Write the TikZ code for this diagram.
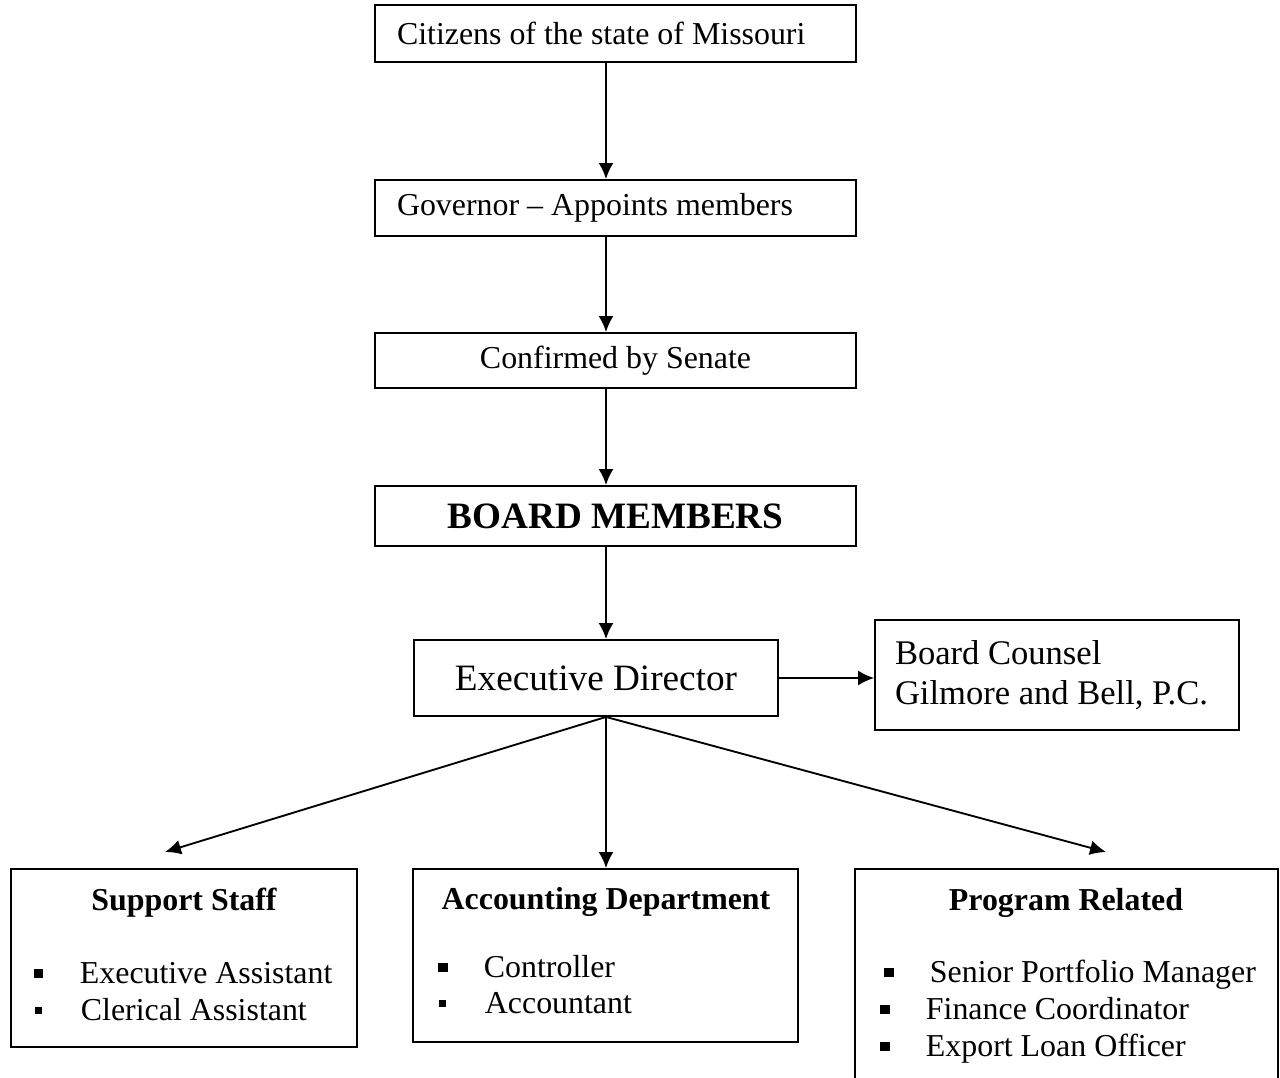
\documentclass[tikz,border=0pt]{standalone}
\usepackage{fontspec}
\setmainfont{Liberation Serif}
\usetikzlibrary{arrows.meta}
\newcommand{\blt}[2]{\makebox[17.3pt][l]{\raisebox{\dimexpr3.6pt-#1/2\relax}{\rule{#1}{#1}}}#2}
\begin{document}
\begin{tikzpicture}[>={Latex[length=6pt,width=5.6pt]}, x=0.3762pt, y=-0.3762pt, line width=0.7pt,
    box/.style={draw, inner sep=0pt, font=\fontsize{12}{14.4}\selectfont},
    head/.style={anchor=base, inner sep=0pt, font=\fontsize{12}{14.4}\selectfont\bfseries},
    item/.style={anchor=base west, inner sep=0pt, font=\fontsize{12}{14.4}\selectfont}]
    \useasboundingbox (0,0) rectangle (1280,1078);
    \coordinate (spine) at (606,0);

    \node[box, minimum width=181pt, minimum height=21.4pt, text width=164.4pt, align=flush left] (cit) at (615.5,33.5) {Citizens of the state of Missouri};
    \node[box, minimum width=181pt, minimum height=21.1pt, text width=164.4pt, align=flush left] (gov) at (615.5,208) {Governor -- Appoints members};
    \node[box, minimum width=181pt, minimum height=20.7pt] (sen) at (615.5,360.5) {Confirmed by Senate};
    \node[box, minimum width=181pt, minimum height=22.6pt, font=\fontsize{14}{16}\selectfont\bfseries] (board) at (615.5,516) {BOARD MEMBERS};
    \node[box, minimum width=136.9pt, minimum height=28.6pt, font=\fontsize{14}{16}\selectfont] (exec) at (596,678) {Executive Director};
    \node[box, minimum width=136.9pt, minimum height=41.4pt, text width=121.9pt, align=flush left, font=\fontsize{13}{15}\selectfont] (counsel) at (1057,675) {Board Counsel\\Gilmore and Bell, P.C.};

    \node[box, minimum width=130.2pt, minimum height=67pt] (staff) at (184,958) {};
    \node[box, minimum width=144.8pt, minimum height=65.1pt] (acct) at (605.5,955.5) {};
    \node[box, minimum width=159.1pt, minimum height=83.1pt] (prog) at (1066.5,979.5) {};

    \node[head] (staffhd) at (184,910) {Support Staff};
    \node[item] (staff1) at (33,983) {\blt{3.6pt}{Executive Assistant}};
    \node[item] (staff2) at (34,1020) {\blt{2.6pt}{Clerical Assistant}};
    \node[head] (accthd) at (606,909) {Accounting Department};
    \node[item] (acct1) at (437,977) {\blt{3.6pt}{Controller}};
    \node[item] (acct2) at (438,1013) {\blt{2.6pt}{Accountant}};
    \node[head] (proghd) at (1066,910) {Program Related};
    \node[item] (prog1) at (883,982) {\blt{3.6pt}{Senior Portfolio Manager}};
    \node[item] (prog2) at (879,1019) {\blt{3.6pt}{Finance Coordinator}};
    \node[item] (prog3) at (879,1056) {\blt{3.6pt}{Export Loan Officer}};

    \coordinate (tipL) at (165,852);
    \coordinate (tipR) at (1106,852);
    \draw[->] (cit.south -| spine) -- (gov.north -| spine);
    \draw[->] (gov.south -| spine) -- (sen.north -| spine);
    \draw[->] (sen.south -| spine) -- (board.north -| spine);
    \draw[->] (board.south -| spine) -- (exec.north -| spine);
    \draw[->] (exec.east) -- (exec.east -| counsel.west);
    \draw[->] (exec.south -| spine) -- (tipL);
    \draw[->] (exec.south -| spine) -- (acct.north -| spine);
    \draw[->] (exec.south -| spine) -- (tipR);
\end{tikzpicture}
\end{document}
